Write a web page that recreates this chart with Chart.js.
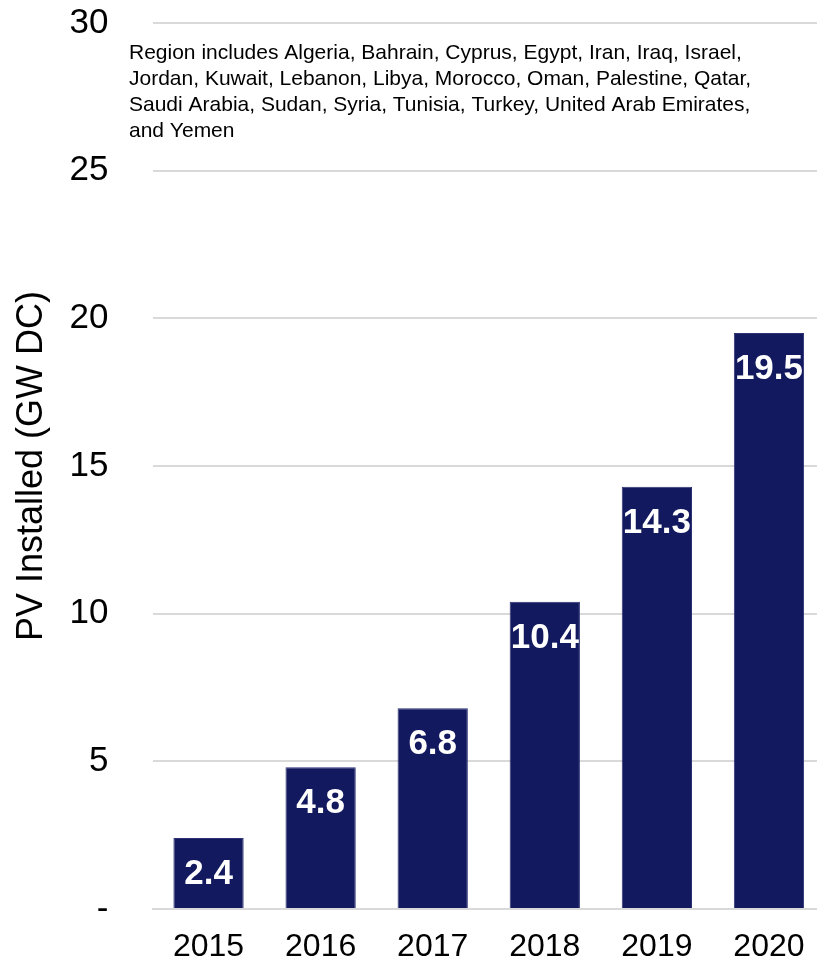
<!DOCTYPE html>
<html>
<head>
<meta charset="utf-8">
<script src="https://cdn.jsdelivr.net/npm/chart.js@4.4.1/dist/chart.umd.min.js"></script>
<style>
  html, body { margin: 0; padding: 0; background: #fff; overflow: hidden; }
  #wrap { width: 826px; height: 962px; }
</style>
</head>
<body>
<div id="wrap"><canvas id="myChart" width="826" height="962"></canvas></div>
<script>
var years = ['2015', '2016', '2017', '2018', '2019', '2020'];
var installed = [2.4, 4.8, 6.8, 10.4, 14.3, 19.5];
var yTicks = [0, 5, 10, 15, 20, 25, 30];
var noteLines = [
    'Region includes Algeria, Bahrain, Cyprus, Egypt, Iran, Iraq, Israel,',
    'Jordan, Kuwait, Lebanon, Libya, Morocco, Oman, Palestine, Qatar,',
    'Saudi Arabia, Sudan, Syria, Tunisia, Turkey, United Arab Emirates,',
    'and Yemen'
];

var FONT = 'Liberation Sans, Arial, sans-serif';
var navy = '#13195e';

// white value labels near the top of each bar
var barLabels = {
    id: 'barLabels',
    afterDatasetsDraw: function(chart) {
        var ctx = chart.ctx;
        var meta = chart.getDatasetMeta(0);
        ctx.save();
        ctx.fillStyle = '#ffffff';
        ctx.font = 'bold 35px ' + FONT;
        ctx.textAlign = 'center';
        ctx.textBaseline = 'alphabetic';
        meta.data.forEach(function(bar, i) {
            ctx.fillText(installed[i].toFixed(1), bar.x, bar.y + 46, bar.width);
        });
        ctx.restore();
    }
};

// region note under the top gridline
var regionNote = {
    id: 'regionNote',
    afterDraw: function(chart) {
        var ctx = chart.ctx;
        ctx.save();
        ctx.fillStyle = '#000';
        ctx.font = '21px ' + FONT;
        ctx.textAlign = 'left';
        ctx.textBaseline = 'alphabetic';
        for (var i = 0; i < noteLines.length; i++) {
            ctx.fillText(noteLines[i], 129, 59 + i * 26);
        }
        ctx.restore();
    }
};

var data = {
    labels: years,
    datasets: [{
        label: 'PV Installed',
        data: installed,
        backgroundColor: navy,
        borderColor: '#2b3173',
        borderWidth: 1,
        barPercentage: 0.627,
        categoryPercentage: 1.0
    }]
};

var config = {
    type: 'bar',
    data: data,
    options: {
        responsive: false,
        animation: false,
        events: [],
        layout: { padding: { top: 23, right: 1, left: 0, bottom: 0 } },
        plugins: {
            legend: { display: false },
            tooltip: { enabled: false }
        },
        scales: {
            x: {
                grid: { display: false, drawTicks: false },
                border: { color: '#d9d9d9', width: 2 },
                ticks: {
                    color: '#000',
                    font: { family: FONT, size: 32 },
                    padding: 19
                },
                afterFit: function(scale) { scale.height = 962 - 909; }
            },
            y: {
                min: 0,
                max: 30,
                afterBuildTicks: function(scale) {
                    scale.ticks = yTicks.map(function(v) { return { value: v }; });
                },
                grid: { color: '#d9d9d9', lineWidth: 2, drawTicks: true, tickLength: 44, tickColor: 'rgba(0,0,0,0)' },
                border: { display: false },
                ticks: {
                    color: '#000',
                    font: { family: FONT, size: 35 },
                    padding: 0,
                    callback: function(v) { return v === 0 ? '-' : v; }
                },
                title: {
                    display: true,
                    text: 'PV Installed (GW DC)',
                    color: '#000',
                    font: { family: FONT, size: 36 },
                    padding: { top: 10, bottom: 0 }
                },
                afterFit: function(scale) { scale.width = 152.5; }
            }
        }
    },
    plugins: [barLabels, regionNote]
};

var myChart = new Chart(document.getElementById('myChart'), config);
</script>
</body>
</html>
